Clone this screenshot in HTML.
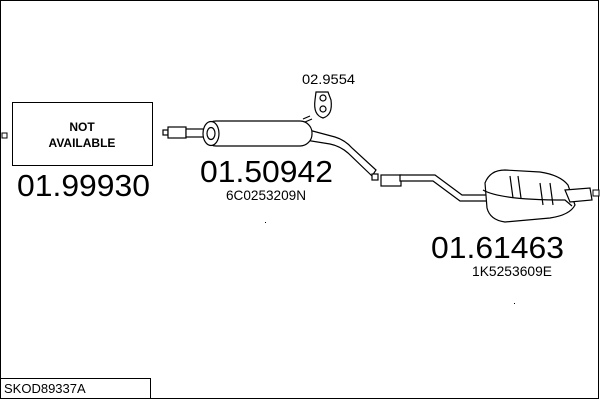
<!DOCTYPE html>
<html><head><style>
body{margin:0;background:#fff}
svg{display:block}
text{font-family:"Liberation Sans",Arial,sans-serif;fill:#000}
</style></head><body>
<svg width="600" height="400" viewBox="0 0 600 400" xmlns="http://www.w3.org/2000/svg">
<rect x="0.5" y="0.5" width="598" height="398" fill="#fff" stroke="#000"/>
<rect x="0.5" y="378.5" width="150" height="20" fill="#fff" stroke="#000"/>
<text x="4" y="393" font-size="13">SKOD89337A</text>
<rect x="593" y="190" width="6" height="6" fill="#fff" stroke="#000"/>
<rect x="2" y="133" width="5" height="5" fill="#fff" stroke="#000"/>

<rect x="12.5" y="102.5" width="140" height="63" fill="#fff" stroke="#000"/>
<text x="82" y="131" font-size="12" font-weight="bold" text-anchor="middle">NOT</text>
<text x="82" y="147" font-size="12" font-weight="bold" text-anchor="middle">AVAILABLE</text>
<text x="17" y="196" font-size="31" textLength="133" lengthAdjust="spacingAndGlyphs">01.99930</text>

<g fill="#fff" stroke="#000" stroke-width="1.2">
<rect x="163" y="130" width="5" height="5"/>
<rect x="168" y="127" width="18" height="11"/>
<rect x="186" y="129" width="22" height="8"/>
<path d="M305 129 L335 137 Q345 140 352 148 L376 170 L372 176 L348 153 Q340 146 330 144 L305 140 Z"/>
<rect x="204" y="121" width="108" height="25" rx="12"/>
<ellipse cx="211" cy="133.5" rx="8" ry="12"/>
<ellipse cx="211" cy="133.5" rx="4" ry="6"/>
<path d="M303 119 L310 116 M305 122 L312 119" fill="none"/>
<rect x="372" y="174" width="6" height="6"/>
<rect x="381" y="175" width="20" height="11"/>
<path d="M400 175 L435 175 L462 195 L490 195 L490 201 L460 201 L433 181 L400 181 Z"/>
<path d="M485 183 Q490 170 505 170 L540 172 Q560 175 568 185 L575 205 Q570 215 550 218 L505 222 Q490 220 487 208 Z"/>
<path d="M483 190 Q500 200 565 200 L572 206" fill="none"/>
<path d="M565 190 L590 188 L592 200 L570 202 Z"/>
<path d="M510 176 L513 198 M518 176 L521 198 M540 183 L543 205 M550 183 L553 205" fill="none"/>
<path d="M316 92 L328 92 L331 100 Q333 115 323 118 Q313 115 315 100 Z"/>
<circle cx="323" cy="98" r="3"/>
<circle cx="323" cy="109" r="3"/>
</g>

<text x="302" y="84" font-size="14" textLength="53" lengthAdjust="spacingAndGlyphs">02.9554</text>
<text x="200" y="182" font-size="31" textLength="133" lengthAdjust="spacingAndGlyphs">01.50942</text>
<text x="226" y="200" font-size="14" textLength="80" lengthAdjust="spacingAndGlyphs">6C0253209N</text>
<text x="431" y="258" font-size="31" textLength="133" lengthAdjust="spacingAndGlyphs">01.61463</text>
<text x="472" y="276" font-size="14" textLength="80" lengthAdjust="spacingAndGlyphs">1K5253609E</text>
<rect x="265" y="222" width="1" height="1" fill="#000"/>
<rect x="514" y="303" width="1" height="1" fill="#000"/>
</svg>
</body></html>
